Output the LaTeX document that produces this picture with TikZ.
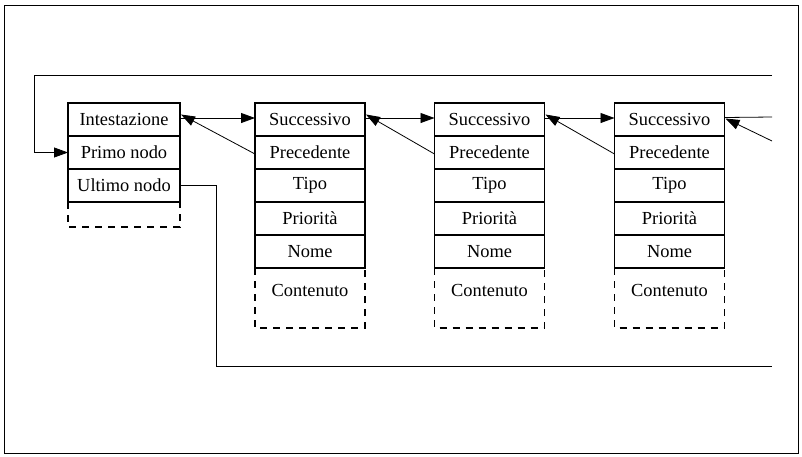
\documentclass[tikz,border=0pt]{standalone}
\usepackage{fontspec}
\setmainfont{Liberation Serif}
\usetikzlibrary{arrows.meta}
\begin{document}
\begin{tikzpicture}[x=1pt,y=-1pt,
  cell/.style={draw,line width=1.3pt,minimum height=33pt,inner sep=0pt,outer sep=0pt,
    font=\fontsize{18.4}{22}\selectfont},
  hcell/.style={cell,minimum width=112pt},
  ncell/.style={cell,minimum width=110pt},
  ctext/.style={inner sep=0pt,font=\fontsize{18.4}{22}\selectfont},
  conn/.style={line width=0.8pt},
  arr/.style={conn,-{Triangle[length=14pt,width=10pt]}},
  dbox/.style={line width=1.3pt,dash pattern=on 7pt off 6pt}]
\useasboundingbox (0,0) rectangle (802,456);
\draw[line width=0.8pt] (4,5) rectangle (798,453);
% header
\node[hcell] (h1) at (124,119.5) {Intestazione};
\node[hcell] (h2) at (124,152.5) {Primo nodo};
\node[hcell] (h3) at (124,185.5) {Ultimo nodo};
\draw[dbox] (h3.south west) -- ++(0,25) -- ([yshift=-25pt]h3.south east) -- (h3.south east);
% list nodes
\foreach \n/\x in {a/310,b/489.5,c/669.5}{
  \node[ncell] (\n1) at (\x,119.5) {Successivo};
  \node[ncell] (\n2) at (\x,152.5) {Precedente};
  \node[ncell] (\n3) at (\x,185.5) {Tipo};
  \node[ncell] (\n4) at (\x,218.5) {Priorità};
  \node[ncell] (\n5) at (\x,251.5) {Nome};
  \node[ctext] (\n6) at (\x,290) {Contenuto};
  \draw[dbox] (\n5.south west) -- ++(0,60) -- ([yshift=-60pt]\n5.south east) -- (\n5.south east);
}
% free ends
\coordinate (tr) at (772,75);
\coordinate (tl) at (34,75);
\coordinate (sr) at (772,117);
\coordinate (pr) at (772,141);
\coordinate (br) at (772,366);
\coordinate (ul) at (216,185.5);
\coordinate (bl) at (216,366);
% forward
\draw[arr] ([yshift=1.5pt]h1.east) -- ([yshift=1.5pt]a1.west);
\draw[arr] ([yshift=1.5pt]a1.east) -- ([yshift=1.5pt]b1.west);
\draw[arr] ([yshift=1.5pt]b1.east) -- ([yshift=1.5pt]c1.west);
\draw[conn] ([yshift=2pt]c1.east) -- (sr);
% backward
\draw[arr] ([yshift=-1.5pt]a2.west) -- ([xshift=1pt,yshift=5pt]h1.east);
\draw[arr] ([yshift=-1.5pt]b2.west) -- ([xshift=1pt,yshift=5pt]a1.east);
\draw[arr] ([yshift=-1.5pt]c2.west) -- ([xshift=1pt,yshift=5pt]b1.east);
\draw[arr] (pr) -- ([xshift=1pt,yshift=1pt]c1.east);
% loop to first node
\draw[arr] (tr) -- (tl) -- (tl |- h2.west) -- (h2.west);
% last node line
\draw[conn] (h3.east) -- (ul) -- (bl) -- (br);
\end{tikzpicture}
\end{document}
